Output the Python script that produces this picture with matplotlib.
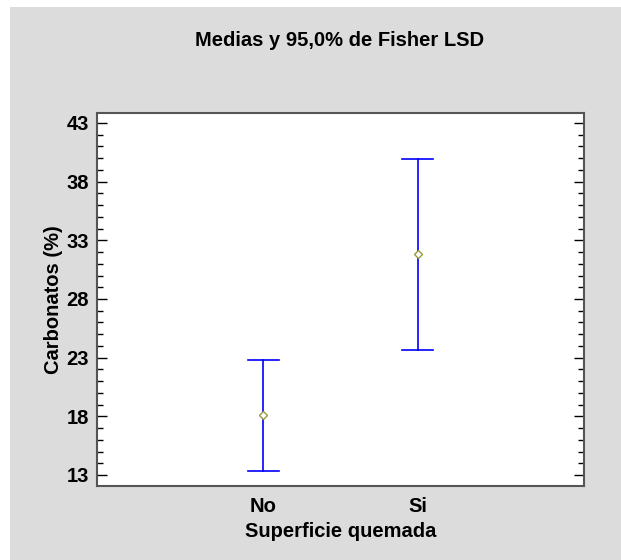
import matplotlib
matplotlib.use("Agg")
import matplotlib.pyplot as plt
from matplotlib.patches import Rectangle
from matplotlib.ticker import MultipleLocator

# datos: medias e intervalos LSD de Fisher (95,0%)
categorias = ['No', 'Si']
medias = [18.08, 31.80]
inferior = [13.33, 23.65]
superior = [22.82, 39.96]
yticks = [13, 18, 23, 28, 33, 38, 43]

plt.rcParams['font.family'] = ['Liberation Sans', 'DejaVu Sans']
plt.rcParams['font.weight'] = 'bold'
fs = 14.5

fig = plt.figure(figsize=(6.21, 5.6), dpi=100)
fig.patch.set_facecolor('white')
# fondo gris del panel
fig.patches.append(Rectangle((10 / 621, 0), 1, 1 - 7 / 560, transform=fig.transFigure,
                             facecolor='#dcdcdc', edgecolor='none', zorder=-10))

ax = fig.add_axes([97 / 621, 1 - 486 / 560, 487 / 621, 373 / 560])
ax.set_facecolor('white')

x = list(range(1, len(categorias) + 1))
for xi, m, lo, hi in zip(x, medias, inferior, superior):
    ax.plot([xi, xi], [lo, hi], color='#0000ff', lw=1.2)
    ax.plot([xi - 0.1, xi + 0.1], [lo, lo], color='#0000ff', lw=1.2)
    ax.plot([xi - 0.1, xi + 0.1], [hi, hi], color='#0000ff', lw=1.2)
ax.plot(x, medias, linestyle='none', marker='D', markersize=4.5,
        markerfacecolor='white', markeredgecolor='#9a9a40', markeredgewidth=1.0, zorder=5)

ax.set_xlim(-0.071, 3.071)
ax.set_ylim(12.06, 43.85)
ax.set_xticks(x)
ax.set_xticklabels(categorias)
ax.set_yticks(yticks)
ax.yaxis.set_minor_locator(MultipleLocator(1))
ax.tick_params(axis='x', length=0, pad=8, labelsize=fs)
ax.tick_params(axis='y', which='major', direction='in', length=7, width=1,
               left=True, right=True, labelsize=fs, pad=6)
ax.tick_params(axis='y', which='minor', direction='in', length=4, width=1,
               left=True, right=True)
for s in ax.spines.values():
    s.set_color('#555555')
    s.set_linewidth(1.5)

ax.set_xlabel('Superficie quemada', fontsize=fs, fontweight='bold', labelpad=4)
ax.set_ylabel('Carbonatos (%)', fontsize=fs, fontweight='bold', labelpad=2)
fig.text(340 / 621, 1 - 40 / 560, 'Medias y 95,0% de Fisher LSD', ha='center', va='center',
         fontsize=fs, fontweight='bold')

fig.savefig('out.png', dpi=100)
